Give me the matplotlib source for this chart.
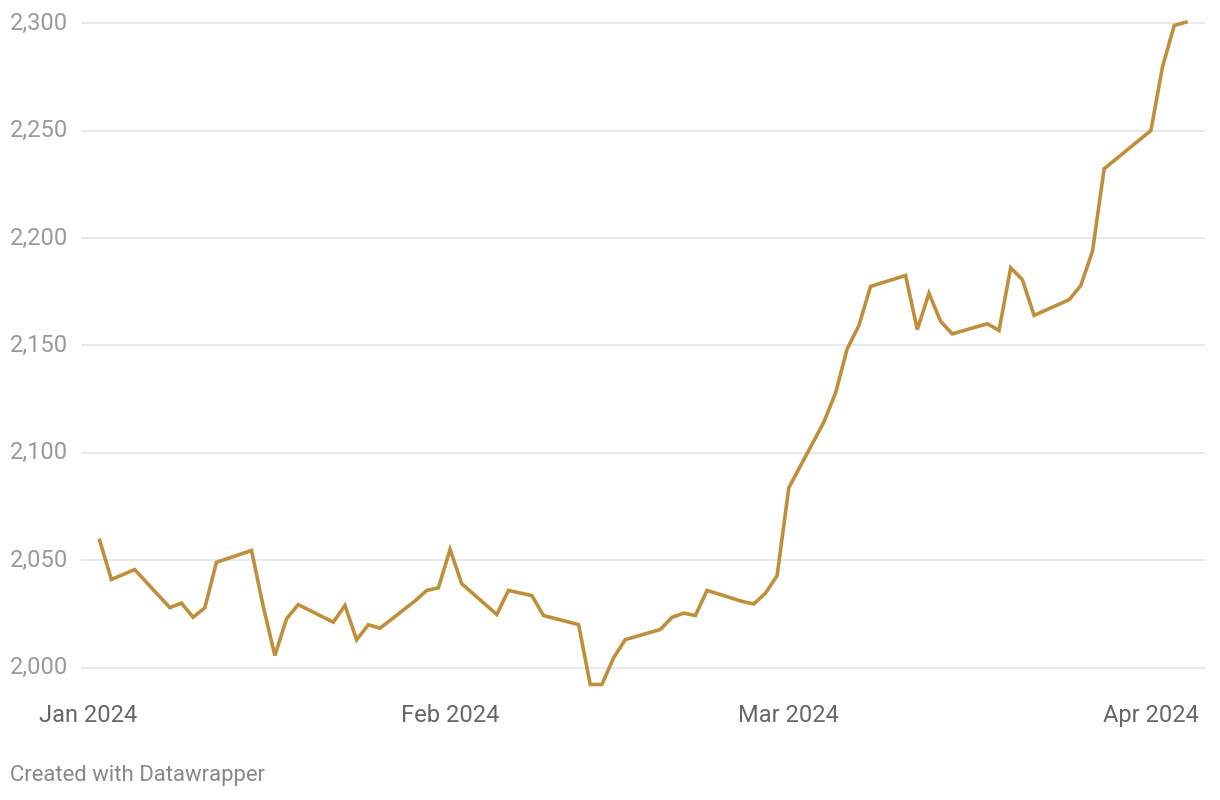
import matplotlib
matplotlib.use("Agg")
import matplotlib.dates as mdates
import matplotlib.pyplot as plt
import matplotlib.transforms as mtransforms
import numpy as np

plt.rcParams['font.family'] = ['Roboto', 'DejaVu Sans']

# daily gold price, USD per ounce
dates = [
    "2024-01-02", "2024-01-03", "2024-01-05", "2024-01-08", "2024-01-09",
    "2024-01-10", "2024-01-11", "2024-01-12", "2024-01-15", "2024-01-16",
    "2024-01-17", "2024-01-18", "2024-01-19", "2024-01-22", "2024-01-23",
    "2024-01-24", "2024-01-25", "2024-01-26", "2024-01-29", "2024-01-30",
    "2024-01-31", "2024-02-01", "2024-02-02", "2024-02-05", "2024-02-06",
    "2024-02-07", "2024-02-08", "2024-02-09", "2024-02-12", "2024-02-13",
    "2024-02-14", "2024-02-15", "2024-02-16", "2024-02-19", "2024-02-20",
    "2024-02-21", "2024-02-22", "2024-02-23", "2024-02-26", "2024-02-27",
    "2024-02-28", "2024-02-29", "2024-03-01", "2024-03-04", "2024-03-05",
    "2024-03-06", "2024-03-07", "2024-03-08", "2024-03-11", "2024-03-12",
    "2024-03-13", "2024-03-14", "2024-03-15", "2024-03-18", "2024-03-19",
    "2024-03-20", "2024-03-21", "2024-03-22", "2024-03-25", "2024-03-26",
    "2024-03-27", "2024-03-28", "2024-04-01", "2024-04-02", "2024-04-03",
    "2024-04-04",
]
prices = [
    2059.2, 2041.0, 2045.6, 2027.9, 2030.0,
    2023.4, 2027.8, 2049.0, 2054.5, 2028.5,
    2005.6, 2022.7, 2029.3, 2021.1, 2028.9,
    2012.9, 2019.9, 2018.3, 2031.0, 2035.9,
    2037.1, 2055.0, 2039.0, 2024.7, 2035.9,
    2034.7, 2033.5, 2024.2, 2020.0, 1992.1,
    1992.1, 2004.5, 2013.0, 2017.7, 2023.4,
    2025.3, 2024.2, 2035.9, 2030.8, 2029.6,
    2034.6, 2042.8, 2083.7, 2114.3, 2127.8,
    2148.4, 2159.3, 2177.5, 2182.6, 2157.4,
    2174.3, 2161.2, 2155.4, 2160.1, 2157.0,
    2186.2, 2180.6, 2164.0, 2171.3, 2177.9,
    2193.9, 2232.3, 2250.1, 2279.9, 2299.0,
    2300.6,
]

y_ticks = [2000, 2050, 2100, 2150, 2200, 2250, 2300]
x_ticks = ["2024-01-01", "2024-02-01", "2024-03-01", "2024-04-01"]
x_labels = ["Jan 2024", "Feb 2024", "Mar 2024", "Apr 2024"]

x = mdates.datestr2num(dates)
W, H = 1220, 800

fig = plt.figure(figsize=(W / 100, H / 100), dpi=100)
ax = fig.add_axes([81 / W, 1 - 700 / H, (1205 - 81) / W, (700 - 15) / H])

jan1 = mdates.datestr2num("2024-01-01")
px_day = 11.68
ax.set_xlim(jan1 - (88 - 81) / px_day, jan1 + (1205 - 88) / px_day)
px_unit = 2.147
ax.set_ylim(2000 - (700 - 667.5) / px_unit, 2000 + (667.5 - 15) / px_unit)

for t in y_ticks:
    ax.axhline(t, color="#e3e3e3", lw=1.1, zorder=1)

ax.plot(x, prices, color="#bf8f3c", lw=2.6, solid_joinstyle="miter",
        zorder=3, clip_on=False)

for s in ax.spines.values():
    s.set_visible(False)
ax.set_yticks([])
ax.set_xticks(mdates.datestr2num(x_ticks))
ax.set_xticklabels(x_labels, fontsize=17, color="#666666")
ax.tick_params(axis="x", length=0, pad=3)

trans = mtransforms.blended_transform_factory(fig.transFigure, ax.transData)
for t in y_ticks:
    ax.text(10 / W, t, f"{t:,}", transform=trans, ha="left", va="center",
            fontsize=17, color="#9a9a9a")

fig.text(10 / W, 1 - 776 / H, "Created with Datawrapper", ha="left",
         va="center", fontsize=15.9, color="#888888")

fig.savefig("out.png", dpi=100, facecolor="white")
